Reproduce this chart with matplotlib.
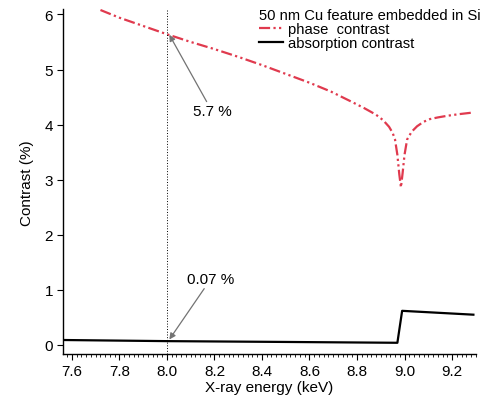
import matplotlib
matplotlib.use("Agg")
import matplotlib.pyplot as plt

plt.rcParams["font.family"] = ["Liberation Sans", "DejaVu Sans"]
plt.rcParams["font.size"] = 11

# ---- data ----
phase_energy = [7.72, 7.80, 7.90, 8.00, 8.10, 8.20, 8.30, 8.40, 8.50, 8.60,
                8.69, 8.77, 8.83, 8.88, 8.91, 8.935, 8.95, 8.96, 8.97, 8.978,
                8.985, 8.992, 9.00, 9.011, 9.03, 9.053, 9.08, 9.107, 9.14,
                9.18, 9.23, 9.29]
phase_contrast = [6.08, 5.94, 5.79, 5.64, 5.50, 5.37, 5.23, 5.08, 4.92, 4.76,
                  4.60, 4.43, 4.30, 4.18, 4.08, 3.96, 3.85, 3.73, 3.45, 3.10,
                  2.86, 3.12, 3.45, 3.73, 3.87, 3.97, 4.05, 4.10, 4.13,
                  4.16, 4.19, 4.22]

abs_energy = [7.57, 8.00, 8.50, 8.97, 8.99, 9.29]
abs_contrast = [0.09, 0.07, 0.055, 0.04, 0.62, 0.55]

marker_energy = 8.0
phase_label = "5.7 %"
abs_label = "0.07 %"

# ---- plot ----
fig = plt.figure(figsize=(4.84, 4.02), dpi=100)
ax = fig.add_axes([0.130, 0.117, 0.853, 0.857])

ax.plot(phase_energy, phase_contrast, color="#e03a4e", lw=1.6,
        ls=(0, (5, 1.5, 1, 1.5, 1, 1.5)), label="phase  contrast")
ax.plot(abs_energy, abs_contrast, color="black", lw=1.6,
        label="absorption contrast")
ax.axvline(marker_energy, color="black", ls=(0, (1, 1.8)), lw=0.7)

arrow = dict(arrowstyle="-|>", color="0.45", lw=0.9, mutation_scale=9,
             shrinkA=0, shrinkB=0)
ax.annotate(phase_label, xy=(8.01, 5.63), xytext=(8.19, 4.24),
            ha="center", va="center", arrowprops=arrow)
ax.annotate(abs_label, xy=(8.01, 0.10), xytext=(8.185, 1.20),
            ha="center", va="center", arrowprops=arrow)

ax.set_xlim(7.562, 9.30)
ax.set_ylim(-0.163, 6.09)
ax.set_xticks([7.6, 7.8, 8.0, 8.2, 8.4, 8.6, 8.8, 9.0, 9.2])
ax.set_xticklabels(["7.6", "7.8", "8.0", "8.2", "8.4", "8.6", "8.8", "9.0", "9.2"])
ax.set_xticks([7.58 + 0.02 * i for i in range(87)], minor=True)
ax.set_yticks([0, 1, 2, 3, 4, 5, 6])

for side in ["top", "right"]:
    ax.spines[side].set_visible(False)
ax.spines["left"].set_linewidth(1.0)
ax.spines["bottom"].set_linewidth(1.0)
ax.tick_params(which="major", direction="out", length=4, width=0.8, pad=3)
ax.tick_params(which="minor", direction="out", length=2.2, width=0.6)

ax.set_xlabel("X-ray energy (keV)", labelpad=2)
ax.set_ylabel("Contrast (%)", labelpad=8)

leg = ax.legend(title="50 nm Cu feature embedded in Si", frameon=False,
                loc="upper left", bbox_to_anchor=(259 / 484, 1 - 9 / 402),
                bbox_transform=fig.transFigure, borderpad=0, borderaxespad=0,
                handlelength=1.6, handletextpad=0.35, labelspacing=0.0,
                alignment="left", title_fontsize=10.6, fontsize=10.6)
leg._legend_box.sep = 0

fig.savefig("out.png", dpi=100)
